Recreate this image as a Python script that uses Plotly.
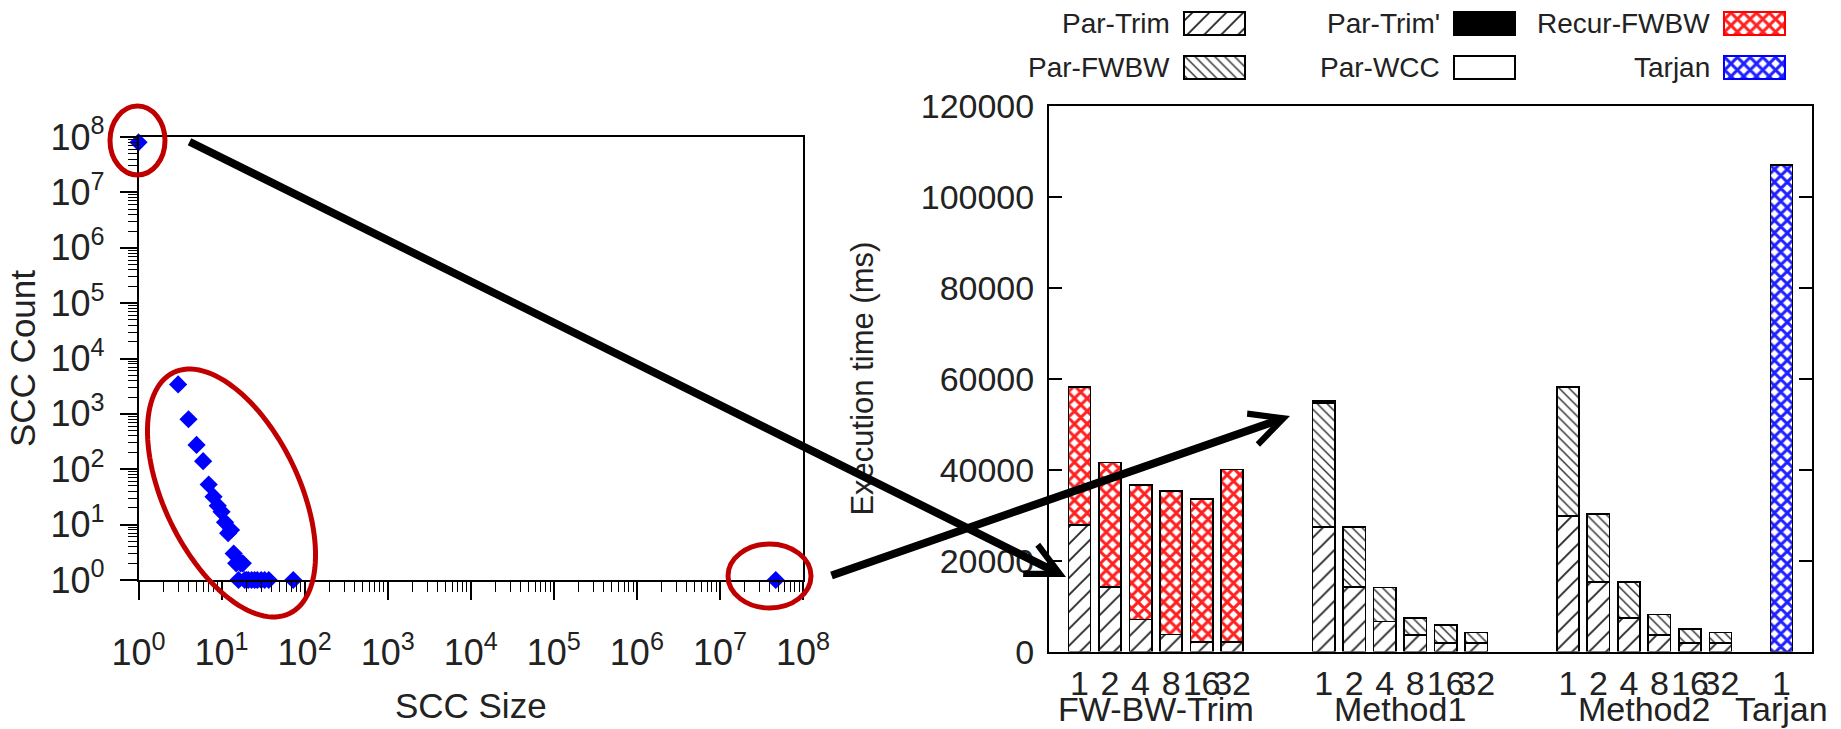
import numpy as np
import plotly.graph_objects as go

W, H = 1841, 729

# ---------------- data: left panel (SCC size distribution) ----------------
scc_size = [1, 3, 4, 5, 6, 7, 8, 9, 10, 11, 12, 13, 14, 15, 16, 17, 18, 19, 20, 21,
            23, 25, 27, 30, 33, 37, 73, 47000000]
scc_count = [80000000, 3400, 800, 275, 140, 53, 32, 22, 17, 11, 7, 8, 3, 2, 1, 2, 2, 1, 1, 1,
             1, 1, 1, 1, 1, 1, 1, 1]
decades = list(range(0, 9))

# ---------------- data: right panel (execution time, ms) ----------------
groups = ["FW-BW-Trim", "Method1", "Method2", "Tarjan"]
thread_labels = [["1", "2", "4", "8", "16", "32"],
                 ["1", "2", "4", "8", "16", "32"],
                 ["1", "2", "4", "8", "16", "32"],
                 ["1"]]
series_names = ["Par-Trim", "Par-FWBW", "Par-Trim'", "Par-WCC", "Recur-FWBW", "Tarjan"]
par_trim = [27800, 14200, 7100, 3800, 2100, 2100,
            27400, 14200, 6600, 3700, 1900, 1900,
            29800, 15300, 7400, 3700, 1900, 1900,
            None]
par_fwbw = [None, None, None, None, None, None,
            27200, 13200, 7500, 3700, 4000, 2300,
            28400, 15000, 7900, 4500, 3100, 2300,
            None]
par_trim2 = [None, None, None, None, None, None,
             550, None, None, None, None, None,
             None, None, None, None, None, None,
             None]
par_wcc = [None] * 19
recur_fwbw = [30400, 27400, 29500, 31500, 31500, 37900,
              None, None, None, None, None, None,
              None, None, None, None, None, None,
              None]
tarjan = [None] * 18 + [107000]
series_values = [par_trim, par_fwbw, par_trim2, par_wcc, recur_fwbw, tarjan]

# ---------------- layout constants ----------------
FONT = "Liberation Sans, Arial, sans-serif"
TXT = "#222222"
group_start = [0, 8, 16, 23]
slots, ticktext = [], []
for st, labs in zip(group_start, thread_labels):
    for k, lab in enumerate(labs):
        slots.append(st + k)
        ticktext.append(lab)
group_centers = [st + (len(labs) - 1) / 2 for st, labs in zip(group_start, thread_labels)]

styles = {
    "Par-Trim": dict(color="white", pattern=dict(shape="/", fgcolor="#2a2a2a", bgcolor="white",
                                                 size=12, solidity=0.16, fillmode="replace")),
    "Par-FWBW": dict(color="white", pattern=dict(shape="\\", fgcolor="#2a2a2a", bgcolor="white",
                                                 size=7, solidity=0.2, fillmode="replace")),
    "Par-Trim'": dict(color="black"),
    "Par-WCC": dict(color="white"),
    "Recur-FWBW": dict(color="white", pattern=dict(shape="x", fgcolor="#ff2020", bgcolor="white",
                                                   size=9, solidity=0.55, fillmode="replace")),
    "Tarjan": dict(color="white", pattern=dict(shape="x", fgcolor="#2020ff", bgcolor="white",
                                               size=9, solidity=0.55, fillmode="replace")),
}
legend_border = {"Recur-FWBW": "#ff0000", "Tarjan": "#0000ff"}

fig = go.Figure()

# left scatter
fig.add_trace(go.Scatter(
    x=scc_size, y=scc_count, mode="markers", xaxis="x", yaxis="y",
    marker=dict(symbol="diamond", size=14, color="#0000ff", line=dict(width=0)),
    cliponaxis=False, showlegend=False, hoverinfo="skip"))

# right stacked bars
for name, vals in zip(series_names, series_values):
    st = styles[name]
    fig.add_trace(go.Bar(
        x=slots, y=vals, width=0.73, xaxis="x2", yaxis="y2", name=name,
        marker=dict(line=dict(color="black", width=1.6), **st),
        showlegend=False, hoverinfo="skip"))

# custom legend (text left of swatch, column-major 2 rows) on pixel overlay axis
sw_left0, sw_dx, sw_w, sw_h = 1184, 270, 61, 23
row_top = [12, 56]
for i, name in enumerate(series_names):
    col, row = i // 2, i % 2
    left = sw_left0 + col * sw_dx
    st = styles[name]
    fig.add_trace(go.Bar(
        x=[left + sw_w / 2], y=[sw_h], base=[row_top[row]], width=[sw_w],
        xaxis="x3", yaxis="y3",
        marker=dict(line=dict(color=legend_border.get(name, "black"), width=1.6), **st),
        showlegend=False, hoverinfo="skip"))
    fig.add_annotation(x=left - 13, y=row_top[row] + sw_h / 2, xref="x3", yref="y3",
                       text=name, showarrow=False, xanchor="right", yanchor="middle",
                       borderpad=0, font=dict(family=FONT, size=28, color=TXT))

# group labels under the bar chart
for g, c in zip(groups, group_centers):
    fig.add_annotation(x=c, y=709, xref="x2", yref="y3", text=g, showarrow=False,
                       xanchor="center", yanchor="middle", borderpad=0,
                       font=dict(family=FONT, size=34, color=TXT))

# red ellipses
red = "#c00000"
fig.add_shape(type="circle", xref="x3", yref="y3", x0=110, x1=165, y0=106, y1=175,
              line=dict(color=red, width=5), layer="above")
fig.add_shape(type="circle", xref="x3", yref="y3", x0=728, x1=811, y0=544, y1=608,
              line=dict(color=red, width=5), layer="above")
cx, cy, a, b, th = 231.5, 493, 133.7, 67.5, np.deg2rad(64.3)
t = np.linspace(0, 2 * np.pi, 121)
ex = cx + a * np.cos(t) * np.cos(th) - b * np.sin(t) * np.sin(th)
ey = cy + a * np.cos(t) * np.sin(th) + b * np.sin(t) * np.cos(th)
path = "M " + " L ".join(f"{px:.2f},{py:.2f}" for px, py in zip(ex, ey)) + " Z"
fig.add_shape(type="path", xref="x3", yref="y3", path=path,
              line=dict(color=red, width=5), layer="above")

# black arrows
for (x0, y0), (x1, y1) in [((188, 141), (1066, 577)), ((830, 576), (1290, 416))]:
    fig.add_annotation(x=x1, y=y1, ax=x0, ay=y0, xref="x3", yref="y3", axref="x3", ayref="y3",
                       text="", showarrow=True, arrowhead=5, arrowwidth=8, arrowsize=0.8,
                       arrowcolor="black")

tick_font_l = dict(family=FONT, size=36, color=TXT)
tick_font_r = dict(family=FONT, size=34, color=TXT)
minor_vals = [m * 10 ** d for d in decades[:-1] for m in range(2, 10)]

fig.update_layout(
    width=W, height=H, margin=dict(l=0, r=0, t=0, b=0),
    template="none", paper_bgcolor="white", plot_bgcolor="rgba(0,0,0,0)",
    barmode="stack", showlegend=False, font=dict(family=FONT, color=TXT),
    xaxis=dict(
        domain=[138.5 / W, 803 / W], anchor="y", type="log", range=[0, 8],
        tickmode="array", tickvals=[10 ** d for d in decades],
        ticktext=[f"10<sup>{d}</sup>" for d in decades],
        ticks="outside", ticklen=18, tickwidth=1.5, tickcolor="black",
        minor=dict(tickmode="array", tickvals=minor_vals,
                   ticks="outside", ticklen=10, tickwidth=1.3, tickcolor="black", showgrid=False),
        showline=True, linecolor="black", linewidth=1.5, mirror=True,
        showgrid=False, zeroline=False, tickfont=tick_font_l, ticklabelstandoff=22,
        title=dict(text="SCC Size", font=dict(family=FONT, size=35, color=TXT), standoff=22)),
    yaxis=dict(
        domain=[1 - 580 / H, 1 - 137 / H], anchor="x", type="log", range=[0, 8],
        tickmode="array", tickvals=[10 ** d for d in decades],
        ticktext=[f"10<sup>{d}</sup>" for d in decades],
        ticks="outside", ticklen=17, tickwidth=1.5, tickcolor="black",
        minor=dict(tickmode="array", tickvals=minor_vals,
                   ticks="outside", ticklen=9, tickwidth=1.3, tickcolor="black", showgrid=False),
        showline=True, linecolor="black", linewidth=1.5, mirror=True,
        showgrid=False, zeroline=False, tickfont=tick_font_l, ticklabelstandoff=8,
        title=dict(text="SCC Count", font=dict(family=FONT, size=35, color=TXT), standoff=4)),
    xaxis2=dict(
        domain=[1049 / W, 1812 / W], anchor="y2", range=[-1, 24],
        tickmode="array", tickvals=slots, ticktext=ticktext, tickangle=0, ticks="",
        showline=True, linecolor="black", linewidth=2, mirror=True,
        showgrid=False, zeroline=False, tickfont=tick_font_r, ticklabelstandoff=1),
    yaxis2=dict(
        domain=[1 - 651.6 / H, 1 - 105.7 / H], anchor="x2", range=[0, 120000],
        tickmode="linear", tick0=0, dtick=20000, tickformat="d",
        ticks="inside", ticklen=13, tickwidth=1.5, tickcolor="black",
        showline=True, linecolor="black", linewidth=2, mirror="ticks",
        showgrid=False, zeroline=False, tickfont=tick_font_r, ticklabelstandoff=6,
        title=dict(text="Execution time (ms)", font=dict(family=FONT, size=31, color=TXT),
                   standoff=38)),
    xaxis3=dict(domain=[0, 1], anchor="y3", range=[0, W], visible=False, fixedrange=True),
    yaxis3=dict(domain=[0, 1], anchor="x3", range=[H, 0], visible=False, fixedrange=True),
)

fig.write_html("out.html")
